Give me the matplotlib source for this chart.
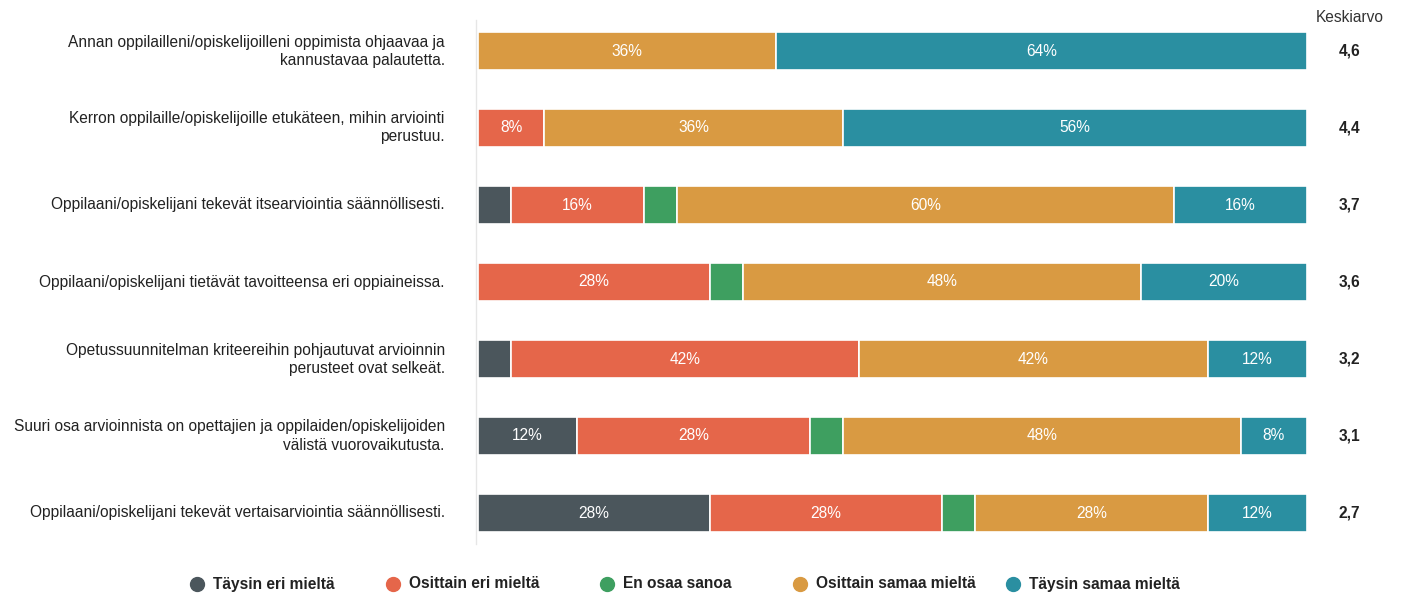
import matplotlib
matplotlib.use("Agg")
import matplotlib.pyplot as plt
from matplotlib.lines import Line2D
import numpy as np

plt.rcParams['font.family'] = ['Liberation Sans', 'DejaVu Sans']

statements = [
    "Annan oppilailleni/opiskelijoilleni oppimista ohjaavaa ja\nkannustavaa palautetta.",
    "Kerron oppilaille/opiskelijoille etukäteen, mihin arviointi\nperustuu.",
    "Oppilaani/opiskelijani tekevät itsearviointia säännöllisesti.",
    "Oppilaani/opiskelijani tietävät tavoitteensa eri oppiaineissa.",
    "Opetussuunnitelman kriteereihin pohjautuvat arvioinnin\nperusteet ovat selkeät.",
    "Suuri osa arvioinnista on opettajien ja oppilaiden/opiskelijoiden\nvälistä vuorovaikutusta.",
    "Oppilaani/opiskelijani tekevät vertaisarviointia säännöllisesti.",
]
categories = ["Täysin eri mieltä", "Osittain eri mieltä", "En osaa sanoa",
              "Osittain samaa mieltä", "Täysin samaa mieltä"]
taysin_eri = [0, 0, 4, 0, 4, 12, 28]
osittain_eri = [0, 8, 16, 28, 42, 28, 28]
en_osaa = [0, 0, 4, 4, 0, 4, 4]
osittain_samaa = [36, 36, 60, 48, 42, 48, 28]
taysin_samaa = [64, 56, 16, 20, 12, 8, 12]
means = ["4,6", "4,4", "3,7", "3,6", "3,2", "3,1", "2,7"]

colors = ["#4b565c", "#e5664a", "#3e9f60", "#d99a42", "#2a8fa1"]
series = [taysin_eri, osittain_eri, en_osaa, osittain_samaa, taysin_samaa]

W, H = 1402, 598
fig = plt.figure(figsize=(W/100, H/100), dpi=100)
ax = fig.add_axes([478/W, 1-551.5/H, (1307-478)/W, (551.5-12.5)/H])

FS = 11.2
y = np.arange(len(statements))
left = np.zeros(len(statements))
for vals, col in zip(series, colors):
    vals = np.array(vals, dtype=float)
    ax.barh(y, vals, left=left, height=0.49, color=col, edgecolor="white", linewidth=1.2)
    for yi, (l, v) in enumerate(zip(left, vals)):
        if v >= 8:
            ax.text(l + v/2, yi, f"{int(v)}%", ha="center", va="center",
                    color="white", fontsize=FS)
    left += vals

ax.set_xlim(0, 100)
ax.set_ylim(len(statements)-0.5, -0.5)
ax.axis("off")
ax.plot([-0.3, -0.3], [-0.4, 6.4], color="#e6e6e6", lw=1, clip_on=False)

for yi, s in enumerate(statements):
    ax.text(-4, yi, s, ha="right", va="center", fontsize=FS, color="#222222",
            linespacing=1.25)
    ax.text(105.1, yi, means[yi], ha="center", va="center", fontsize=FS,
            fontweight="bold", color="#222222")
ax.text(105.1, -0.43, "Keskiarvo", ha="center", va="center", fontsize=FS, color="#333333")

# legend, laid out manually to match spacing
leg_x = [197, 393, 607, 800, 1013]
leg_y = 1 - 584/H
for x, c, lab in zip(leg_x, colors, categories):
    fig.add_artist(Line2D([x/W], [leg_y], marker="o", color="none", markerfacecolor=c,
                          markeredgecolor=c, markersize=10, transform=fig.transFigure))
    fig.text((x + 16)/W, leg_y, lab, ha="left", va="center", fontsize=FS,
             fontweight="bold", color="#222222")

fig.savefig("out.png", dpi=100)
